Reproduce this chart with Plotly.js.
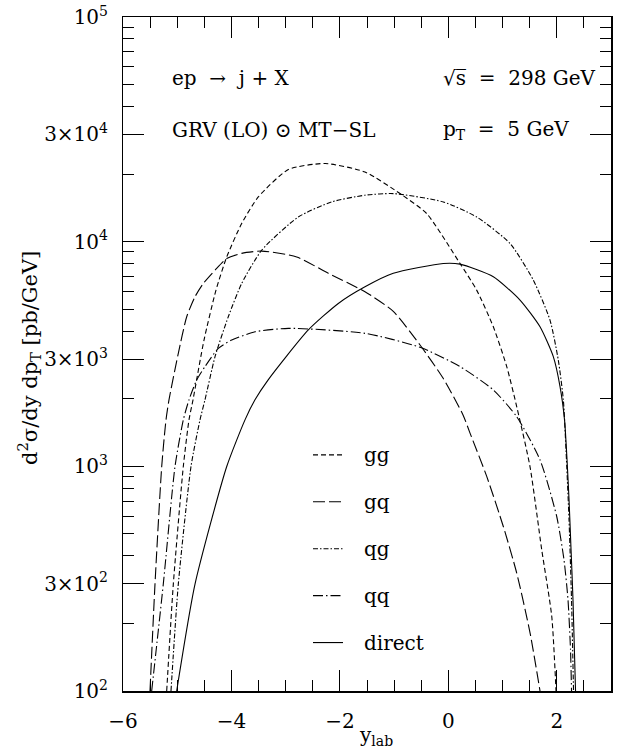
<!DOCTYPE html>
<html>
<head>
<meta charset="utf-8">
<script src="https://cdn.plot.ly/plotly-3.0.1.min.js"></script>
<style>html,body{margin:0;padding:0;background:#fff;}#chart{width:618px;height:748px;}</style>
</head>
<body>
<div id="chart"></div>
<script>
// ---- data ----
const seriesNames = ["gg", "gq", "qg", "qq", "direct"];

const ggX = [-5.194, -5.072, -4.888, -4.783, -4.709, -4.506, -4.285, -4.087, -3.811, -3.505, -2.951, -2.274, -1.537, -0.891, -0.399, 0.215, 0.523, 0.830, 1.077, 1.261, 1.506, 1.722, 1.907, 1.986];
const ggY = [100, 299, 998, 1610, 1977, 3648, 6086, 8551, 12050, 15810, 20940, 22280, 20420, 16370, 13330, 7998, 6086, 4178, 2780, 1845, 998, 426, 215, 100];

const gqX = [-5.502, -5.410, -5.286, -5.207, -5.152, -4.980, -4.825, -4.672, -4.519, -4.303, -4.087, -3.811, -3.442, -2.796, -2.214, -1.537, -1.020, -0.522, -0.098, 0.271, 0.400, 0.708, 1.014, 1.261, 1.506, 1.691];
const gqY = [100, 299, 998, 1610, 1977, 3184, 4634, 5689, 6516, 7464, 8414, 8872, 9080, 8551, 7228, 5986, 4909, 3467, 2472, 1693, 1406, 902, 540, 335, 182, 100];

const qgX = [-5.115, -4.980, -4.746, -4.580, -4.488, -4.303, -4.058, -3.811, -3.442, -2.767, -2.151, -1.537, -1.015, -0.093, 0.523, 1.138, 1.567, 1.875, 2.028, 2.121, 2.170, 2.226, 2.272, 2.309];
const qgY = [100, 299, 998, 1610, 1977, 3076, 4634, 6516, 9162, 12880, 15030, 16100, 16370, 15030, 12880, 9817, 6745, 4477, 2972, 1977, 1184, 578, 255, 100];

const qqX = [-5.471, -5.257, -5.041, -4.888, -4.783, -4.641, -4.488, -4.242, -3.995, -3.565, -2.951, -1.537, -0.522, 0.215, 0.830, 1.261, 1.691, 1.999, 2.133, 2.207, 2.253, 2.272];
const qqY = [100, 299, 998, 1610, 1977, 2421, 2780, 3350, 3648, 3972, 4113, 3908, 3388, 2780, 2188, 1663, 1069, 598, 384, 255, 153, 100];

const dirX = [-5.010, -4.672, -4.087, -3.750, -3.566, -3.326, -2.582, -2.029, -1.537, -1.015, -0.093, 0.215, 0.830, 1.322, 1.691, 1.936, 2.060, 2.143, 2.189, 2.226, 2.263, 2.299, 2.346];
const dirY = [100, 299, 998, 1610, 1977, 2421, 4046, 5309, 6295, 7228, 7998, 7943, 6982, 5495, 4178, 3076, 2265, 1610, 1069, 710, 426, 255, 100];

const yMajorVals = [100, 300, 1000, 3000, 10000, 30000, 100000];
const yMajorText = ["10<sup>2</sup>", "3×10<sup>2</sup>", "10<sup>3</sup>", "3×10<sup>3</sup>", "10<sup>4</sup>", "3×10<sup>4</sup>", "10<sup>5</sup>"];
const yMinorVals = [200, 400, 500, 600, 700, 800, 900, 2000, 4000, 5000, 6000, 7000, 8000, 9000, 20000, 40000, 50000, 60000, 70000, 80000, 90000];
const xMajorVals = [-6, -4, -2, 0, 2];
const xMinorVals = [-5.5, -5, -4.5, -3.5, -3, -2.5, -1.5, -1, -0.5, 0.5, 1, 1.5, 2.5];

// ---- styles ----
const dashes = ["5px,3px", "12px,4px", "5px,2px,1.5px,2px", "10px,3px,1.5px,3px", "solid"];
const FONT = "DejaVu Serif";

const xs = [ggX, gqX, qgX, qqX, dirX];
const ys = [ggY, gqY, qgY, qqY, dirY];
// the three overlaid axis pairs (major ticks / minor ticks / labels) each carry some of the curves
const axisPair = [["x", "y"], ["x", "y"], ["x2", "y2"], ["x2", "y2"], ["x3", "y3"]];

const traces = seriesNames.map((n, i) => ({
  x: xs[i], y: ys[i], name: n, type: "scatter", mode: "lines",
  xaxis: axisPair[i][0], yaxis: axisPair[i][1],
  line: {color: "#000", width: 1.1, dash: dashes[i], shape: "spline", smoothing: 0.6},
  showlegend: false, hoverinfo: "skip"
}));

// plot area in pixels
const L = 123, R = 611, T = 16.5, B = 691.5;
const px = v => (v - L) / (R - L);
const py = v => (B - v) / (B - T);

const legendRows = [455, 502, 549, 596, 643];
const shapes = [];
const annotations = [];
seriesNames.forEach((n, i) => {
  shapes.push({type: "line", xref: "paper", yref: "paper",
    x0: px(313), x1: px(343), y0: py(legendRows[i]), y1: py(legendRows[i]),
    line: {color: "#000", width: 1.1, dash: dashes[i]}});
  annotations.push({xref: "paper", yref: "paper", x: px(362), y: py(legendRows[i]),
    xanchor: "left", yanchor: "middle", text: n, showarrow: false,
    font: {family: FONT, size: 20, color: "#000"}});
});

const labels = [
  {t: "ep  →  j + X", x: 170, y: 78},
  {t: "GRV (LO) ⊙ MT−SL", x: 170, y: 130},
  {t: "√s\u0305  =  298 GeV", x: 441, y: 78},
  {t: "p<sub>T</sub>  =  5 GeV", x: 441, y: 130}
];
labels.forEach(l => annotations.push({xref: "paper", yref: "paper", x: px(l.x), y: py(l.y),
  xanchor: "left", yanchor: "middle", text: l.t, showarrow: false,
  font: {family: FONT, size: 20, color: "#000"}}));

// axis titles
annotations.push({xref: "paper", yref: "paper", x: px(29), y: py(358), textangle: -90,
  xanchor: "center", yanchor: "middle", showarrow: false,
  text: "d<sup>2</sup>σ/dy dp<sub>T</sub> [pb/GeV]",
  font: {family: FONT, size: 21, color: "#000"}});
annotations.push({xref: "paper", yref: "paper", x: px(376), y: py(737),
  xanchor: "center", yanchor: "middle", showarrow: false,
  text: "y<sub>lab</sub>",
  font: {family: FONT, size: 20, color: "#000"}});

const frame = {showline: true, linewidth: 1.5, linecolor: "#000", showgrid: false, zeroline: false};
const tickBase = {tickcolor: "#000", tickwidth: 1};
const hidden = {showline: false, showgrid: false, zeroline: false};

const layout = {
  width: 618, height: 748,
  margin: {l: L, r: 618 - R, t: T, b: 748 - B},
  paper_bgcolor: "#fff", plot_bgcolor: "#fff",
  font: {family: FONT, size: 20, color: "#000"},
  // major ticks + frame
  xaxis: Object.assign({range: [-6, 3], tickmode: "array", tickvals: xMajorVals, showticklabels: false,
    ticks: "inside", ticklen: 21, mirror: "allticks"}, frame, tickBase),
  yaxis: Object.assign({type: "log", range: [2, 5], tickmode: "array", tickvals: yMajorVals, showticklabels: false,
    ticks: "inside", ticklen: 21, mirror: "allticks"}, frame, tickBase),
  // minor ticks
  xaxis2: Object.assign({overlaying: "x", anchor: "y2", range: [-6, 3], tickmode: "array", tickvals: xMinorVals,
    showticklabels: false, ticks: "inside", ticklen: 11, mirror: "allticks"}, frame, tickBase),
  yaxis2: Object.assign({type: "log", overlaying: "y", anchor: "x2", range: [2, 5], tickmode: "array", tickvals: yMinorVals,
    showticklabels: false, ticks: "inside", ticklen: 11, mirror: "allticks"}, frame, tickBase),
  // tick labels, pushed away from the frame by transparent outside ticks
  xaxis3: Object.assign({overlaying: "x", anchor: "y3", range: [-6, 3], tickmode: "array", tickvals: xMajorVals,
    showticklabels: true, ticks: "outside", ticklen: 12, tickcolor: "rgba(0,0,0,0)",
    tickfont: {family: FONT, size: 20, color: "#000"}}, hidden),
  yaxis3: Object.assign({type: "log", overlaying: "y", anchor: "x3", range: [2, 5], tickmode: "array", tickvals: yMajorVals, ticktext: yMajorText,
    showticklabels: true, ticks: "outside", ticklen: 10, tickcolor: "rgba(0,0,0,0)",
    tickfont: {family: FONT, size: 20, color: "#000"}}, hidden),
  shapes: shapes,
  annotations: annotations,
  showlegend: false
};

Plotly.newPlot("chart", traces, layout, {staticPlot: true, displayModeBar: false});
</script>
</body>
</html>
